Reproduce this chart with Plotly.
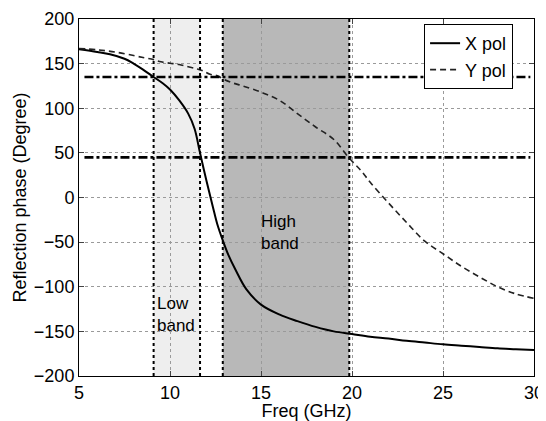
import plotly.graph_objects as go

# ---- data ----
freq_x = [5, 6, 6.7, 7.5, 8, 8.5, 9.1, 9.6, 10, 10.5, 11, 11.35, 11.65, 12, 12.35,
          12.6, 12.9, 13.2, 13.6, 14.2, 15, 16, 17, 18, 19, 20, 21, 22, 23, 24, 25,
          26, 27, 28, 29, 30]
phase_x = [166, 163, 160.5, 155.5, 150, 143.5, 135, 128, 121, 109, 94, 77, 50, 19,
           -10, -30, -48, -64, -81, -103, -120, -131, -138.5, -145, -150, -153,
           -156, -158, -160.5, -162.5, -164.5, -166, -167.5, -169, -170, -171]

freq_y = [5, 6, 7, 8, 8.6, 9.1, 9.5, 10, 10.5, 11, 11.5, 11.8, 12.2, 12.6, 13,
          13.5, 14, 15, 16, 17, 18, 19, 19.85, 20.5, 21, 22, 23, 24, 25, 26, 27,
          28, 29, 30]
phase_y = [167, 165.5, 163, 159, 156.5, 154.5, 152, 150.5, 149, 146.5, 144, 142,
           138, 136.5, 132, 128, 125, 118, 109, 94, 79, 65, 44, 30, 17, -6, -28,
           -49, -63, -77, -89, -100, -108, -113]

low_band = [9.1, 11.65]
high_band = [12.9, 19.85]
phase_limits = [135, 45]

x_ticks = [5, 10, 15, 20, 25, 30]
y_ticks = [-200, -150, -100, -50, 0, 50, 100, 150, 200]

FONT = "Liberation Sans, Arial, sans-serif"

fig = go.Figure()

fig.add_trace(go.Scatter(x=freq_x, y=phase_x, mode="lines", name="X pol",
                         line=dict(color="black", width=2, shape="spline", smoothing=1.0)))
fig.add_trace(go.Scatter(x=freq_y, y=phase_y, mode="lines", name="Y pol",
                         line=dict(color="#222", width=1.6, dash="6px,4px",
                                   shape="spline", smoothing=1.0)))

# horizontal dash-dot reference lines
for v in phase_limits:
    fig.add_trace(go.Scatter(x=[5.3, 29.8], y=[v, v], mode="lines", showlegend=False,
                             line=dict(color="black", width=2.6, dash="9px,3px,3px,3px")))

shapes = []
shapes.append(dict(type="rect", xref="x", yref="paper", x0=low_band[0], x1=low_band[1],
                   y0=0, y1=1, fillcolor="#eeeeee", line_width=0, layer="below"))
shapes.append(dict(type="rect", xref="x", yref="paper", x0=high_band[0], x1=high_band[1],
                   y0=0, y1=1, fillcolor="#b8b8b8", line_width=0, layer="below"))
for xv in low_band + high_band:
    shapes.append(dict(type="line", xref="x", yref="paper", x0=xv, x1=xv, y0=0, y1=1,
                       line=dict(color="black", width=2, dash="dot"), layer="above"))

# page body has an 8px margin, so the figure is sized/offset to compensate
fig.update_layout(
    width=538, height=413,
    margin=dict(l=71, r=12, t=11, b=45),
    paper_bgcolor="white", plot_bgcolor="rgba(0,0,0,0)",
    font=dict(family=FONT, size=18, color="black"),
    shapes=shapes,
    showlegend=True,
    legend=dict(x=0.954, y=0.986, xanchor="right", yanchor="top",
                bgcolor="white", bordercolor="black", borderwidth=1,
                font=dict(size=18), tracegroupgap=0, itemwidth=30),
    annotations=[
        dict(x=low_band[0] + 0.05, y=-131, xref="x", yref="y", text="Low<br>band",
             showarrow=False, xanchor="left", align="left", font=dict(size=17)),
        dict(x=16.05, y=-39, xref="x", yref="y", text="High<br>band",
             showarrow=False, xanchor="center", align="left", font=dict(size=17)),
    ],
)

fig.update_xaxes(range=[5, 30], tickvals=x_ticks, ticks="inside", ticklen=5,
                 showline=True, linecolor="black", linewidth=1, mirror="ticks",
                 showgrid=True, gridcolor="#9a9a9a", griddash="dot", gridwidth=1,
                 zeroline=False, tickfont=dict(size=18), automargin=False,
                 title=dict(text="Freq (GHz)", font=dict(size=18), standoff=0))
fig.update_yaxes(range=[-200, 200], tickvals=y_ticks, ticks="inside", ticklen=5,
                 showline=True, linecolor="black", linewidth=1, mirror="ticks",
                 showgrid=True, gridcolor="#9a9a9a", griddash="dot", gridwidth=1,
                 zeroline=False, tickfont=dict(size=18), automargin=False,
                 ticktext=[str(v).replace("-", "\u2212") for v in y_ticks],
                 title=dict(text="Reflection phase (Degree)", font=dict(size=18), standoff=2))

fig.write_html("out.html")
